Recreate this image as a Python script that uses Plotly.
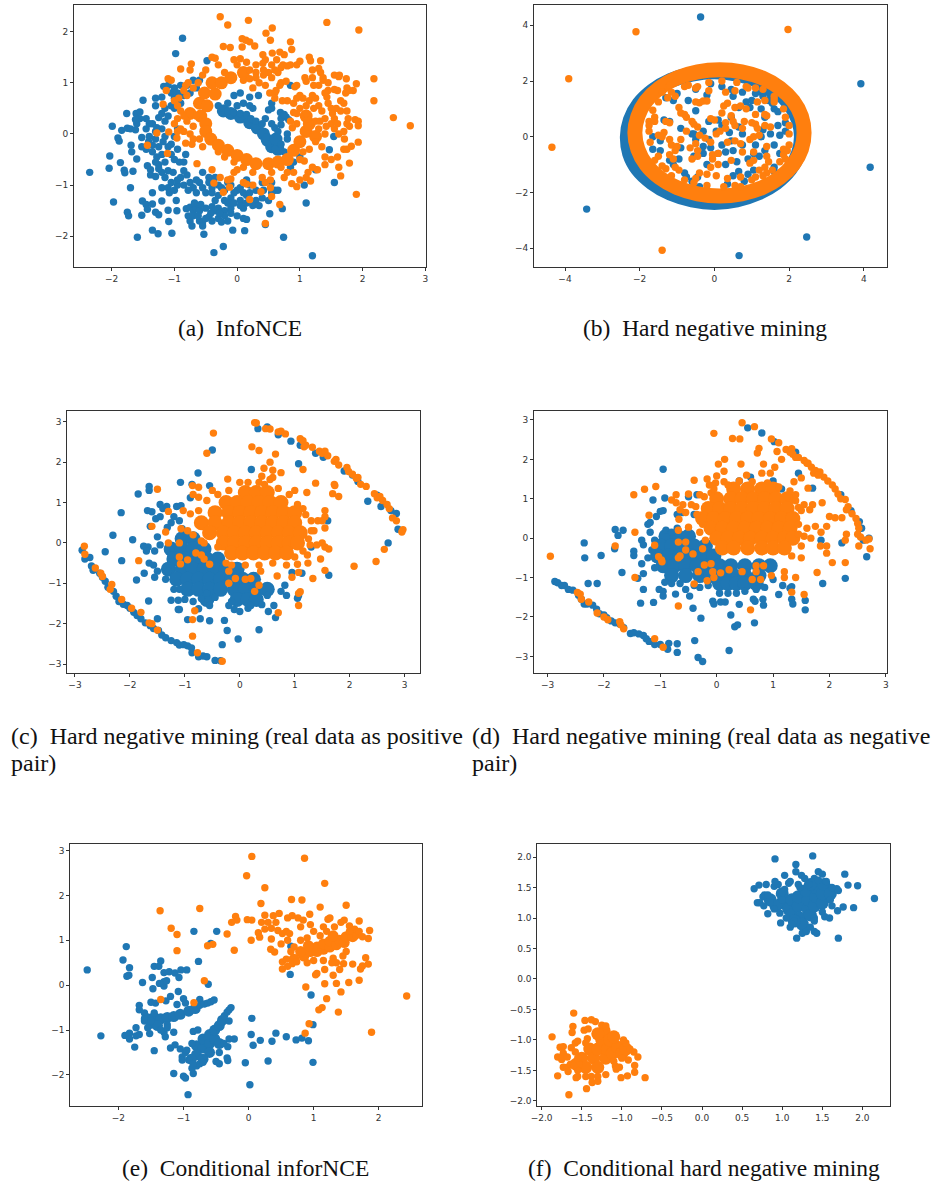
import plotly.graph_objects as go

BLUE = "#1f77b4"
ORANGE = "#ff7f0e"

# ---- panel (a) InfoNCE ----
a_xticks = [-2, -1, 0, 1, 2, 3]
a_yticks = [-2, -1, 0, 1, 2]
a_blue = [(-2.35,-0.75),(-2.04,-0.67),(-2.03,-0.43),(-1.99,0.15),(-1.97,-1.33),(-1.9,-0.08),(-1.88,-0.14),(-1.86,-0.56),(-1.84,0.07),(-1.8,-0.71),(-1.79,-0.76),(-1.76,0.4),(-1.75,0.11),(-1.75,-1.53),(-1.73,-1.6),(-1.69,-0.22),(-1.68,-0.35),(-1.7,-1.05),(-1.66,-0.73),(-1.6,-0.49),(-1.59,-2.02),(-1.61,0.4),(-1.55,0.43),(-1.52,-1.59),(-1.51,-1.31),(-1.52,-0.07),(-1.52,-0.25),(-1.5,0.66),(-1.45,-1.38),(-1.43,-1.47),(-1.41,-0.15),(-1.43,-0.62),(-1.38,-0.7),(-1.38,-0.8),(-1.35,-1.15),(-1.35,-1.37),(-1.3,-0.83),(-1.3,-1.53),(-1.25,-1.58),(-1.35,-1.88),(-1.26,-1.95),(-1.2,-1.31),(-1.1,-1.49),(-1.09,-1.71),(-1.04,-1.94),(-0.97,-1.3),(-0.96,-1.5),(-0.81,-1.46),
(-0.87,1.87),(-0.98,1.57),(-1.3,0.7),(-1.2,0.72),(-1.17,0.93),(-1.1,0.95),(-1.05,0.8),(-0.95,0.8),(-0.9,0.95),(-0.7,1.05),(-0.6,1.05),(-0.48,1.43),(-0.9,0.6),(-1.2,0.4),(-1.15,0.25),(-1.25,0.32),(-1.35,0.2),(-1.45,0.3),(-1.6,0.2),(-1.7,0.1),(-1.62,0.08),(-1.45,0.1),(-1.3,0.05),(-1.2,0.1),(-1.15,-0.05),(-1.3,-0.1),(-1.4,-0.05),(-1.25,-0.25),(-1.35,-0.35),(-1.2,-0.4),(-1.1,-0.25),(-1.0,-0.05),(-0.95,-0.3),(-0.82,-0.4),(-1.0,-0.5),(-1.15,-0.55),(-1.25,-0.6),(-0.85,-0.55),(-1.2,-0.75),(-1.1,-0.72),(-1.2,-1.05),(-1.1,-1.05),(-1.08,-1.15),(-1.0,-1.1),(-0.95,-1.0),(-0.9,-0.85),(-0.8,-0.8),(-0.75,-0.95),(-0.7,-1.05),(-0.6,-0.95),(-0.55,-0.75),(-0.45,-0.85),(-0.35,-0.85),(-0.55,-1.05),(-0.5,-1.15),(-0.4,-1.15),(-0.3,-1.0),(-0.3,-1.2),(-0.2,-1.1),(-0.1,-1.0),(0,-1.1),(-0.1,-1.25),(-0.2,-1.3),(-0.35,-1.3),(-0.4,-1.42),(-0.3,-1.45),(-0.2,-1.5),(-0.1,-1.45),(0.05,-1.3),(0.1,-1.45),(0.15,-1.2),(0.3,-1.3),(0.4,-1.25),(0.5,-1.3),(0.6,-1.1),(0.65,-1.1),(0.55,-0.95),(0.4,-0.95),(0.2,-1.0),
(-0.75,-1.43),(-0.7,-1.5),(-0.65,-1.45),(-0.6,-1.5),(-0.78,-1.6),(-0.75,-1.7),(-0.72,-1.8),(-0.6,-1.7),(-0.55,-1.72),(-0.5,-1.65),(-0.45,-1.62),(-0.55,-1.8),(-0.4,-1.7),(-0.3,-1.65),(-0.25,-1.72),(-0.2,-1.6),(-0.15,-1.7),(-0.1,-1.55),(0,-1.6),(0.1,-1.65),(0.15,-1.67),(-0.07,-1.88),(0.12,-1.89),(-0.53,-1.96),(-0.37,-2.32),(-0.22,-2.2),(0.45,-1.77),(0.74,-2.02),(1.2,-2.38),(0.72,-1.46),(0.52,-1.56),(1.1,-1.35),(1.55,-0.95),(1.07,-1.0),(1.25,-0.7),(1.47,-0.31),(1.54,-0.05),(0.85,-0.65),(0.85,0.95),(0.2,0.72),(0.34,0.75),(0.55,0.6),(0.55,0.5),(0.5,0.47),(0.69,0.42),(0.78,0.33),(0.82,0.28),(0.7,0.18),(0.6,0.12),
(-0.3,0.55),(-0.22,0.5),(-0.15,0.45),(-0.05,0.42),(0.05,0.4),(0.15,0.38),(0.22,0.3),(0.3,0.25),(0.4,0.2),(0.2,0.55),(0.0,0.55),(0.7,-0.2),(0.75,-0.35),(0.8,0.0),(1.0,-0.45),
(-1.55,0.3),(-1.4,0.2),(-1.28,0.12),(-1.62,0.28),(-1.05,0.55),(-1.1,0.35),(-1.0,0.5),(-0.95,0.1),(-1.35,-0.22),(-1.45,-0.3),(-1.28,-0.45),(-1.18,-0.15),(-1.05,-0.2),(-1.05,-0.4),(-0.92,-0.55),(-1.3,-0.55),(-1.25,-0.68),(-1.15,-0.85),(-1.05,-0.95),(-0.95,-0.9),(-1.02,-0.75),(-0.85,-0.72),(-0.85,-1.0),(-0.78,-1.1),(-0.65,-0.9),(-0.65,-1.15),(-0.45,-0.95),(-0.4,-1.05),(-0.25,-1.05),(-0.15,-0.95),(-0.05,-1.15),(0.05,-1.05),(0.1,-1.15),(0.2,-1.15),(0.15,-0.9),(0.3,-1.1),(0.42,-1.1),(0.55,-1.15),(-0.35,-1.5),(-0.28,-1.55),(-0.42,-1.55),(-0.5,-1.45),(-0.15,-1.35),(-0.05,-1.35),(0.05,-1.4),(0.15,-1.35),(0.25,-1.4),(0.35,-1.4),(-0.7,-1.6),(-0.62,-1.6),(-0.68,-1.35),(-0.58,-1.38),(-1.0,0.9),(-0.85,0.75),(-0.8,0.95),(-0.65,0.9),(-0.75,0.8),(-1.0,0.7),(-1.15,0.5),(-1.3,0.55),(0.05,0.8),(0.1,0.6),(0.25,0.5),(0.45,0.3),(0.55,0.2),(0.65,0.05),(0.7,0.3),(0.75,0.38),(0.8,-0.1),(0.9,-0.55),(-0.15,0.6),(-0.05,0.75)]
a_blue_core = [(-0.22,0.45),(-0.1,0.4),(0.05,0.33),(0.2,0.22),(0.32,0.12),(0.42,0.0),(0.48,-0.12),(0.55,-0.25),(0.65,-0.3),(0.62,-0.1)]
a_orange = [(-0.27,2.29),(-0.15,2.13),(0.18,2.22),(0.56,2.07),(0.46,1.97),(1.43,2.18),(1.94,2.03),(0.53,1.83),(0.08,1.86),(0.14,1.83),(0.2,1.8),(0.28,1.72),(0.08,1.7),(-0.22,1.71),(-0.11,1.69),(0.85,1.8),(0.87,1.65),(0.41,1.55),(0.56,1.58),(0.68,1.6),(0.75,1.55),(0.45,1.45),(0.63,1.45),(0.41,1.38),(1.15,1.5),(1.17,1.43),(1.0,1.42),(0.95,1.35),(1.33,1.43),(1.2,1.25),(1.3,1.28),(1.33,1.2),(0.73,1.35),(0.8,1.33),(0.85,1.35),(0.65,1.2),(0.55,1.1),(0.7,1.0),(0.78,1.03),(0.92,0.92),(1.08,1.1),(1.1,1.03),(1.22,0.95),(1.37,1.05),(1.37,1.1),(1.55,1.15),(1.63,1.15),(1.62,1.12),(1.74,1.08),(1.9,0.98),(2.18,1.08),(2.18,0.65),(2.49,0.32),(2.76,0.16),(1.75,0.9),(1.78,0.85),(1.85,0.85),(1.73,0.8),(1.45,0.85),(1.55,0.87),(1.4,0.8),(1.43,0.72),(1.65,0.65),(1.7,0.6),(1.65,0.45),(1.75,0.45),(1.77,0.3),(1.88,0.28),(1.93,0.25),(1.93,0.16),(1.75,0.2),(1.79,0.15),(1.93,-0.16),(1.82,-0.24),(1.71,-0.1),(1.62,0.0),(1.7,-0.3),(1.75,-0.3),(1.6,-0.45),(1.5,-0.5),(1.4,-0.45),(1.62,-0.65),(1.79,-0.57),(1.4,-0.6),(1.65,-0.82),(1.9,-1.18),(1.28,-0.7),(1.2,-0.65),(1.07,-0.53),(1.0,-0.9),(1.13,-0.75),(1.1,-0.85),(1.17,-0.92),(0.95,-1.03),(0.87,-0.97),(0.68,-1.38),(0.55,-1.22),(0.2,-1.28),(-0.22,-1.14),(-0.37,-0.96),(-0.12,-1.04),(0.45,-1.75),(0.45,-0.95),(0.53,-1.05),(0.38,-1.13),(0.53,-0.9),(0.1,-0.95),(0.15,-0.98),(0.25,-1.0),(-0.27,-0.85),(-0.15,-0.9),(-0.1,-0.88),(-0.05,-0.75),(0.0,-0.7),(-0.4,-0.7),(-0.64,-0.58),(-1.28,0.02),(-1.09,0.04),(-1.43,-0.22),(-1.11,-0.38),(-0.96,-0.08),(-0.82,-0.18),(-0.72,-0.2),(-1.0,0.65),(-0.93,0.7),(-1.18,0.58),(-1.13,0.85),(-1.1,1.08),(-1.05,1.05),(-0.9,1.27),(-0.73,1.37),(-0.82,0.95),(-0.75,1.25),(-0.5,1.25),(-0.4,1.5),(-0.35,1.48),(-0.3,1.35),(-0.2,1.2),(-0.05,1.45),(0.0,1.35),(0.05,1.47),(0.15,1.4),(0.2,1.25),(0.3,1.2),(0.35,1.0),(0.25,0.9),(0.45,0.95),(0.52,0.8),(0.6,0.8),(0.6,0.7),(0.8,0.65),(0.9,0.6),(0.95,0.7),(1.0,0.75),(1.05,0.7),(1.15,0.65),(1.2,0.75),(1.25,0.7),(1.3,0.55),(1.35,0.45),(1.45,0.6),(1.5,0.5),(1.4,0.3),(1.5,0.2),(1.55,0.3),(1.6,0.2),(1.55,0.1),(1.4,0.0),(1.3,0.1),(1.25,0.25),(1.1,0.4),(1.0,0.5),(0.95,0.4),(-1.0,0.2),(-0.95,0.3),(-0.9,0.1),(-0.8,0.25),(-0.85,0.35),(-0.7,0.15),(-0.65,0.35),(-0.75,0.4),
(-0.8,0.75),(-0.7,0.9),(-0.9,0.45),(-0.95,0.55),(-0.62,1.0),(-0.85,0.85),(-0.78,1.0),(-0.55,1.15),(0.1,1.05),(0.2,1.08),(0.3,1.1),(0.42,1.15),(0.5,1.2),(0.6,1.25),(0.7,1.3),(0.55,1.35),(0.3,1.35),(0.42,1.25),(0.68,0.95),(0.62,0.85),(0.72,0.65),(0.9,0.42),(0.85,0.25),(0.95,0.2),(0.88,0.12),(1.1,0.55),(1.22,0.5),(1.32,0.25),(1.42,0.15),(1.52,0.4),(1.58,0.5),(1.7,0.05),(1.25,-0.15),(1.35,-0.25),(1.15,-0.3),(1.05,-0.35),(1.0,-0.5),(0.8,-0.75),(0.75,-0.85),(0.9,-0.75),(0.7,-0.65),(0.55,-0.75),(0.4,-0.85),(0.25,-0.75),(0.1,-0.65),(-0.05,-0.55),(-0.2,-0.45),(-0.3,-0.35),(-0.55,-0.25),(-0.6,-0.1),(-0.75,0.0),(-0.85,0.05),(-0.95,0.05),(-0.7,-0.1),(0.95,0.95),(1.2,1.1),(1.45,1.0),(1.6,0.85),(1.3,0.95)]
a_orange_core = [(-0.75,0.4),(-0.58,0.35),(-0.5,0.2),(-0.6,0.6),(-0.48,0.55),(-0.52,0.8),(-0.35,0.78),(-0.4,1.0),(-0.25,1.0),(-0.1,1.1),(0.1,1.2),(-0.5,0.05),(-0.42,-0.1),(-0.3,-0.22),(-0.15,-0.32),(0.0,-0.42),(0.15,-0.5),(0.3,-0.58),(0.5,-0.58),(0.65,-0.55),(0.8,-0.5),(0.9,-0.32),(1.0,-0.15),(1.1,0.05),(1.15,0.2),(1.1,0.35),(1.25,-0.05)]

# ---- panel (b) Hard negative mining ----
b_xticks = [-4, -2, 0, 2, 4]
b_yticks = [-4, -2, 0, 2, 4]
b_blue_ring = [(2.33,0.0),(2.25,0.6),(2.02,1.17),(1.65,1.65),(1.17,2.02),(0.6,2.25),(0.0,2.33),(-0.6,2.25),(-1.17,2.02),(-1.65,1.65),(-2.02,1.17),(-2.25,0.6),(-2.33,0.0),(-2.27,-0.6),(-2.05,-1.17),(-1.67,-1.65),(-1.18,-2.03),(-0.6,-2.27),(0.0,-2.36),(0.6,-2.27),(1.17,-2.02),(1.65,-1.65),(2.02,-1.17),(2.25,-0.6),(2.33,0.0)]
b_orange_ring = [(2.4,0.14),(2.33,0.73),(2.11,1.28),(1.75,1.75),(1.28,2.11),(0.73,2.33),(0.14,2.4),(-0.45,2.33),(-1.0,2.11),(-1.47,1.75),(-1.83,1.28),(-2.05,0.73),(-2.13,0.14),(-2.05,-0.45),(-1.83,-1.0),(-1.47,-1.47),(-1.0,-1.83),(-0.45,-2.05),(0.14,-2.13),(0.73,-2.05),(1.28,-1.83),(1.75,-1.47),(2.11,-1.0),(2.33,-0.45),(2.4,0.14)]
b_blue = [(-0.37,4.3),(3.92,1.9),(4.17,-1.1),(-3.42,-2.6),(2.47,-3.6),(0.66,-4.27),(-1.3,1.4),(-1.1,1.3),(-0.5,0.93),(-1.0,1.55),(-0.5,1.7),(-0.1,1.9),(0.2,1.8),(0.45,1.7),(0.9,1.9),(1.25,1.6),(1.4,1.6),(1.5,1.5),(1.7,1.4),(1.0,1.3),(0.85,1.25),(0.95,1.05),(1.6,1.0),(1.7,0.9),(1.35,0.7),(1.7,0.4),(1.9,0.5),(1.9,0.2),(1.75,0.05),(1.6,-0.3),(1.75,-0.6),(1.6,-1.1),(1.6,-1.25),(1.2,-0.7),(1.05,-0.6),(0.9,-0.8),(0.6,-0.9),(0.65,-1.25),(0.9,-1.35),(0.5,-1.4),(0.3,-1.0),(0.1,-0.6),(-0.1,-0.4),(-0.15,-0.1),(0.05,0.2),(0.2,0.4),(0.45,0.7),(0.1,0.6),(-0.3,0.2),(-0.5,-0.1),(-0.6,0.1),(-0.9,0.3),(-1.2,0.55),(-1.35,0.6),(-1.65,0.0),(-1.65,-0.45),(-1.45,-0.15),(-1.45,-0.5),(-1.2,-0.85),(-1.1,-1.0),(-0.55,-0.7),(-0.6,-1.6),(-0.4,-1.8),(0.4,0.15),(0.45,-0.15),(0.5,-0.5),(0.75,-0.3),(1.1,-0.3),(1.25,0.0),(1.3,0.25),(1.35,-0.5),(1.05,-1.2),(-0.9,-0.4),(-0.95,-0.8),(-0.3,-0.6),(-0.3,-0.35),(-0.2,-1.0),(0.2,-0.3),(0.3,-0.55),(0.75,0.1),(0.65,0.35),(1.5,0.1),(-0.7,1.3),(-0.55,0.1),(-0.15,0.55),(0.5,1.45),(-0.2,1.5),(0.65,1.05),(1.25,1.0),(1.45,1.3),(1.3,1.45),(1.55,1.2),(1.1,1.55),(0.75,1.6),(-0.8,-1.3),(-0.75,-1.45),(-0.45,-1.45),(0.35,-1.7),(0.8,-1.6)]
b_orange = [(1.97,3.85),(-2.1,3.77),(-3.9,2.08),(-4.35,-0.38),(-1.4,-4.08),
(-1.2,1.85),(-1.05,1.95),(-0.7,1.85),(-0.45,1.8),(-0.15,1.65),(0.3,1.6),(0.55,1.65),(0.85,1.8),(1.1,1.75),(-1.4,1.6),(-1.05,1.45),(-1.25,1.4),(-0.5,1.25),(-0.4,1.22),(-0.3,1.28),(-0.2,1.28),(0.25,1.1),(0.35,1.2),(0.55,1.05),(0.7,1.1),(0.85,1.0),(1.15,1.25),(1.35,1.3),(1.6,1.35),(1.6,1.25),(-1.6,0.7),(-1.75,0.55),(-1.6,0.55),(-1.3,0.55),(-1.2,0.5),(-0.95,1.05),(-0.9,0.85),(-0.8,0.8),(-0.75,0.7),(-0.6,0.55),(-0.45,0.35),(-0.55,0.45),(-0.1,0.65),(0.0,0.6),(0.2,0.85),(0.45,0.75),(0.3,0.5),(0.5,0.55),(0.55,0.4),(0.8,0.55),(1.0,0.5),(1.1,0.8),(1.1,0.45),(1.35,0.8),(1.4,0.75),(1.35,0.4),(1.5,0.35),(1.9,0.7),(-1.5,0.05),(-1.35,0.15),(-1.4,0.0),(-1.2,-0.1),(-1.15,-0.3),(-1.0,-0.35),(-1.05,-0.5),(-0.9,-0.1),(-0.75,0.2),(-0.65,-0.4),(-0.5,-0.25),(-0.45,-0.5),(-0.25,-0.05),(-0.4,0.05),(-0.1,-0.2),(0.05,0.1),(0.15,0.2),(0.3,0.3),(0.35,-0.2),(0.55,-0.15),(0.7,-0.25),(0.75,-0.55),(0.75,0.3),(0.95,-0.1),(1.05,0.0),(1.2,0.05),(1.15,0.3),(1.05,-0.55),(1.4,-0.35),(1.4,-0.7),(1.85,-0.45),(1.95,-0.5),(1.9,-0.8),(1.75,-0.9),(-1.5,-0.7),(-1.2,-0.65),(-1.1,-0.8),(-1.05,-1.1),(-1.3,-1.15),(-0.95,-1.2),(-0.6,-0.8),(-0.45,-0.7),(-0.4,-1.3),(-0.1,-1.1),(-0.2,-1.35),(-0.05,-0.8),(-0.05,-0.65),(0.1,-0.6),(0.1,-1.0),(0.05,-1.4),(0.35,-1.5),(0.45,-0.85),(0.7,-1.45),(0.95,-0.95),(1.05,-0.85),(1.1,-1.45),(1.2,-1.2),(1.35,-1.1),(1.4,-1.3),(1.45,-0.9),(-0.5,-1.5),(0.7,-1.8),(-0.5,1.75),(0.9,1.75),
(-1.75,0.2),(-1.72,-0.2),(-1.6,-0.85),(-1.4,-1.05),(-1.15,-1.4),(-0.8,-1.55),(-0.55,-1.65),(-0.2,-1.75),(0.25,-1.8),(0.55,-1.75),(1.0,-1.55),(1.3,-1.4),(1.55,-1.2),(1.85,-0.65),(2.0,-0.3),(2.0,0.1),(2.0,0.4),(1.85,1.0),(1.6,1.45),(1.3,1.7),(0.6,1.95),(0.2,2.0),(-0.15,1.95),(-0.8,1.8),(-1.15,1.6),(-1.5,1.25),(-1.65,0.95),(-1.75,0.4)]

# ---- panel (c) real data as positive pair ----
c_xticks = [-3, -2, -1, 0, 1, 2, 3]
c_yticks = [-3, -2, -1, 0, 1, 2, 3]
c_blue = [(0.5,2.87),(0.33,2.83),(0.7,2.68),(0.93,2.52),(1.1,2.42),(1.38,2.22),(1.52,2.12),(1.07,1.96),(1.9,1.78),(2.05,1.68),(2.15,1.52),(2.33,1.03),(2.5,1.18),(2.57,0.9),(2.75,0.8),(2.85,0.73),(2.88,0.34),(2.7,0.0),(1.6,0.55),(1.62,-0.8),(1.13,-0.75),(0.95,-0.73),(1.3,-0.1),(1.05,-1.37),(1.07,-1.3),(0.85,-1.3),(0.75,-1.2),(0.82,-1.05),(0.65,-1.85),(0.62,-1.55),(0.52,-1.7),(0.4,-1.53),(0.5,-1.3),(0.35,-2.15),(-0.03,-2.38),(-0.32,-2.52),(-0.23,-2.17),(-0.28,-1.92),(-0.55,-1.93),(-0.72,-1.88),(-0.95,-1.9),(-0.55,-1.55),(-0.75,-1.63),(-1.1,-1.65),(-1.12,-1.65),(-1.25,-1.42),(-1.12,-1.42),(-1.0,-1.4),(-0.85,-1.45),(-0.7,-1.38),(-1.5,-1.88),(-1.66,-1.44),(-1.88,-0.92),(-2.15,-0.44),(-2.45,-0.22),(-2.31,0.19),(-1.95,0.08),(-2.16,0.75),(-1.85,1.21),(-1.65,1.3),(-1.65,1.4),(-1.68,0.8),(-1.6,0.77),(-1.63,0.41),(-1.53,0.6),(-1.45,0.65),(-1.45,0.95),(-1.4,0.85),(-1.33,0.9),(-1.32,0.38),(-1.2,0.65),(-1.15,0.9),(-1.07,0.92),(-1.08,1.5),(-0.9,1.12),(-0.87,1.45),(-0.76,1.73),(-0.55,1.42),(-0.5,2.3),(0.21,1.82),(-1.5,0.15),(-1.45,-0.05),(-1.55,-0.2),(-1.67,-0.1),(-1.75,-0.08),(-1.7,-0.2),(-1.65,-0.5),(-1.57,-0.55),(-1.5,-0.7),(-1.55,-0.85),(-1.74,-0.75),(-1.35,-0.9),(-1.3,-0.7),(-1.25,-0.3),(-1.1,-1.15),(-1.2,-1.15),(-0.2,-1.55),(-0.1,-1.65),(0.0,-1.7),(0.15,-1.62),(0.2,-1.55),(-0.15,-1.45),(-0.45,-1.35),(-0.6,-1.25),(-1.1,0.55),(-1.25,0.5),(-1.05,0.35),
(-2.87,-0.18),(-2.82,-0.4),(-2.73,-0.36),(-2.7,-0.57),(-2.67,-0.68),(-2.55,-0.75),(-2.5,-0.85),(-2.45,-0.95),(-2.4,-1.1),(-2.3,-1.2),(-2.25,-1.32),(-2.2,-1.45),(-2.12,-1.52),(-2.05,-1.55),(-2.0,-1.62),(-1.93,-1.72),(-1.87,-1.8),(-1.8,-1.88),(-1.72,-1.98),(-1.63,-2.05),(-1.57,-2.12),(-1.48,-2.17),(-1.42,-2.28),(-1.35,-2.35),(-1.25,-2.42),(-1.15,-2.47),(-1.1,-2.53),(-1.02,-2.52),(-0.95,-2.55),(-0.88,-2.6),(-0.87,-2.72),(-0.75,-2.82),(-0.67,-2.8),(-0.6,-2.82),(-0.45,-2.91),(-0.35,-2.92)]
c_blue_core = [(-1.05,0.1),(-0.85,0.1),(-1.25,-0.15),(-1.05,-0.15),(-0.85,-0.15),(-0.65,-0.15),(-1.2,-0.4),(-1.0,-0.4),(-0.8,-0.4),(-0.6,-0.4),(-0.4,-0.4),(-1.3,-0.65),(-1.05,-0.65),(-0.85,-0.65),(-0.65,-0.65),(-0.45,-0.65),(-0.25,-0.65),(-0.05,-0.65),(-1.15,-0.9),(-0.95,-0.9),(-0.75,-0.9),(-0.55,-0.9),(-0.35,-0.9),(-0.15,-0.9),(0.05,-0.9),(0.25,-0.9),(-0.95,-1.15),(-0.75,-1.15),(-0.55,-1.15),(-0.35,-1.15),(-0.1,-1.15),(0.1,-1.15),(0.3,-1.15),(0.5,-1.15),(-0.6,-1.4),(-0.05,-1.4),(0.15,-1.4),(0.3,-1.4)]
c_orange = [(0.3,2.97),(0.27,2.98),(0.47,2.83),(0.55,2.82),(0.7,2.75),(0.75,2.77),(0.83,2.7),(1.1,2.58),(1.15,2.53),(1.2,2.42),(1.17,2.38),(1.32,2.37),(1.45,2.27),(1.5,2.22),(1.55,2.27),(1.6,2.16),(1.72,2.02),(1.75,2.07),(1.8,1.93),(1.95,1.87),(1.98,1.77),(2.05,1.7),(2.12,1.6),(2.15,1.62),(2.2,1.45),(2.3,1.4),(2.45,1.22),(2.5,1.12),(2.55,1.15),(2.6,1.05),(2.68,0.95),(2.72,0.85),(2.78,0.62),(2.85,0.55),(2.97,0.33),(2.95,0.27),(0.22,2.38),(0.35,2.29),(0.65,2.2),(-0.6,2.22),(-0.48,2.72),(0.55,2.0),(0.44,1.85),(0.6,1.8),(0.75,1.74),(0.4,1.65),(0.55,1.57),(0.6,1.62),(1.15,1.82),(1.38,1.48),(1.22,1.25),(1.72,1.45),(1.73,1.42),(1.69,1.22),(1.8,1.15),(1.55,0.8),(1.55,0.65),(1.5,0.55),(1.42,0.55),(1.55,0.37),(1.3,0.3),(1.25,0.1),(1.4,-0.05),(1.5,0.0),(1.55,-0.1),(1.62,-0.15),(1.47,-0.4),(1.55,-0.68),(1.33,-0.88),(2.08,-0.58),(2.48,-0.46),(2.63,-0.16),(1.23,-0.3),(1.24,-0.5),(1.05,-0.53),(1.07,-0.73),(0.95,-0.85),(0.68,-0.82),(0.7,-1.73),(1.07,-1.25),(1.1,-1.21),(1.07,-1.55),(0.35,-1.05),(0.27,-1.2),(0.38,-0.7),(0.1,-0.9),(0.2,-0.88),(-0.08,-0.88),(-0.2,-0.7),(-0.2,-1.0),(-0.82,-1.68),(-0.86,-1.9),(-0.86,-2.31),(-0.77,-2.72),(-0.32,-2.93),(-1.84,-0.44),(-1.6,0.41),(-1.5,1.33),(-1.3,0.78),(-1.35,0.27),(-1.3,0.0),(-1.1,-0.35),(-1.08,-0.52),(-0.95,-0.42),(-1.1,0.0),(-1.07,0.35),(-0.95,0.3),(-0.85,0.2),(-1.03,0.8),(-0.85,1.2),(-0.86,1.42),(-0.75,1.38),(-0.75,1.13),(-2.83,-0.08),(-2.82,-0.28),(-2.63,-0.62),(-2.53,-0.75),(-2.5,-0.83),(-2.33,-1.03),(-2.36,-1.15),(-2.15,-1.4),(-1.97,-1.62),(-1.8,-1.72),(-1.65,-1.98),(-1.6,-2.0),(-1.5,-2.16),(-0.65,-0.4),(-0.55,-0.53),(-0.25,-0.5),(-0.7,0.05),(-0.8,-0.25),(-0.7,-0.3),(-0.22,1.58),(0.0,1.5),(0.15,1.5),(-0.5,1.3),(1.0,1.3),(0.9,1.2),(1.05,0.95),(1.15,0.85),(1.2,0.7),(1.3,0.55),(1.35,0.3),(1.28,-0.05),(1.15,-0.2),(1.0,-0.35),(0.85,-0.55),(0.6,-0.5),(0.35,-0.55),(0.1,-0.55),(-0.15,-0.55),(-0.4,-0.1),(-0.65,0.0),(-0.9,0.72),(-0.75,0.8),(-0.6,1.05),(-0.4,1.2),(-0.2,1.3),(0.45,1.45),(0.7,1.35),(0.35,1.5)]
c_orange_core = [(0.1,1.25),(0.3,1.25),(0.5,1.25),(-0.25,1.0),(-0.05,1.0),(0.15,1.0),(0.35,1.0),(0.55,1.0),(0.75,1.0),(-0.45,0.75),(-0.2,0.75),(0,0.75),(0.2,0.75),(0.4,0.75),(0.6,0.75),(0.8,0.75),(1.0,0.75),(-0.7,0.5),(-0.45,0.5),(-0.2,0.5),(0,0.5),(0.2,0.5),(0.4,0.5),(0.6,0.5),(0.8,0.5),(1.0,0.5),(-0.55,0.25),(-0.3,0.25),(-0.1,0.25),(0.1,0.25),(0.3,0.25),(0.5,0.25),(0.7,0.25),(0.9,0.25),(1.1,0.25),(-0.3,0.0),(-0.1,0.0),(0.1,0.0),(0.3,0.0),(0.5,0.0),(0.7,0.0),(0.9,0.0),(1.05,0.0),(-0.15,-0.25),(0.05,-0.25),(0.25,-0.25),(0.45,-0.25),(0.65,-0.25),(0.85,-0.25)]

# ---- panel (d) real data as negative pair ----
d_xticks = [-3, -2, -1, 0, 1, 2, 3]
d_yticks = [-3, -2, -1, 0, 1, 2, 3]
d_blue = [(0.55,2.8),(0.8,2.67),(1.02,2.45),(1.4,2.18),(1.45,1.65),(1.0,1.45),(1.15,1.25),(1.7,1.27),(0.6,1.55),(0.4,1.45),(-0.95,1.75),(-0.92,1.02),(-1.13,0.97),(-0.95,0.7),(-1.0,0.68),(-0.7,0.6),(-0.6,0.65),(-1.07,0.55),(-0.4,0.6),(-0.5,1.05),(-0.35,1.1),(-1.22,0.35),(-1.18,0.4),(-1.8,0.22),(-1.75,0.07),(-1.66,0.2),(-1.18,0.15),(-2.35,-0.12),(-2.34,-0.5),(-2.05,-0.44),(-1.81,-0.27),(-1.47,-0.44),(-1.47,-0.33),(-1.33,-0.65),(-1.33,-0.05),(-1.3,-0.17),(-1.22,-0.5),(-1.68,-0.87),(-1.3,-0.9),(-1.4,-1.02),(-2.28,-1.15),(-2.12,-1.15),(-1.3,-1.3),(-1.35,-1.65),(-1.12,-1.63),(-1.02,-1.3),(-0.95,-1.35),(-0.95,-1.47),(-0.92,-1.12),(-0.73,-1.42),(-0.55,-1.3),(-0.48,-1.47),(-0.42,-1.78),(-0.28,-2.03),(-0.39,-2.6),(-0.33,-3.03),(-0.25,-3.13),(-0.7,-2.68),(-0.7,-2.9),(-0.85,-2.67),(-0.87,-2.82),(0.07,-1.62),(0.15,-1.62),(-0.07,-1.6),(-0.05,-1.67),(0.25,-1.95),(0.32,-2.25),(0.37,-2.2),(0.22,-2.85),(0.67,-2.15),(0.4,-1.68),(0.65,-1.55),(0.68,-1.6),(0.82,-1.55),(0.83,-1.7),(1.1,-1.43),(1.33,-1.55),(1.35,-1.67),(1.57,-1.58),(1.57,-1.82),(1.17,-1.2),(1.3,-1.27),(1.33,-1.23),(1.88,-1.15),(2.28,-1.02),(1.85,-0.05),(2.22,-0.12),(2.2,1.1),(2.38,0.7),(2.53,0.42),(2.57,0.25),(2.6,-0.05),(2.66,-0.47),(2.7,0.0),(-0.7,0.25),(-0.9,0.2),(-0.8,0.15),(-0.3,-1.25),(-0.15,-1.2),(0.05,-1.4),(0.2,-1.4),(0.35,-1.4),(0.5,-1.35),(0.7,-1.3),(0.85,-1.25),(1.0,-1.05),(-0.4,-1.2),(-0.65,-1.15),(-0.8,-1.15),(-1.1,-0.75),(-1.15,-0.3),(-1.1,-0.05),
(-2.87,-1.1),(-2.82,-1.13),(-2.75,-1.2),(-2.7,-1.2),(-2.63,-1.3),(-2.55,-1.32),(-2.45,-1.45),(-2.4,-1.55),(-2.35,-1.67),(-2.3,-1.67),(-2.2,-1.7),(-2.13,-1.8),(-2.08,-1.92),(-2.0,-1.95),(-1.95,-2.02),(-1.87,-2.1),(-1.8,-2.15),(-1.72,-2.18),(-1.65,-2.27),(-1.53,-2.42),(-1.47,-2.4),(-1.38,-2.43),(-1.3,-2.47),(-1.25,-2.55),(-1.2,-2.62),(-1.1,-2.7),(-1.0,-2.7)]
d_blue_core = [(-0.9,0.05),(-0.7,0.05),(-0.5,0.05),(-1.0,-0.2),(-0.8,-0.2),(-0.6,-0.2),(-0.4,-0.2),(-0.2,-0.2),(-1.05,-0.45),(-0.85,-0.45),(-0.65,-0.45),(-0.45,-0.45),(-0.25,-0.45),(-0.05,-0.45),(-0.95,-0.7),(-0.75,-0.7),(-0.55,-0.7),(-0.35,-0.7),(-0.15,-0.7),(0.05,-0.7),(0.25,-0.7),(0.5,-0.7),(0.75,-0.7),(0.95,-0.7),(-0.8,-0.95),(-0.55,-0.95),(-0.3,-0.95),(-0.1,-0.95),(0.1,-0.95),(0.3,-0.95),(0.5,-0.95),(0.75,-0.95),(0.05,-1.15),(0.2,-1.15),(0.35,-1.15),(0.5,-1.15),(0.7,-1.15)]
d_orange = [(0.45,2.93),(0.67,2.83),(-0.05,2.66),(0.28,2.53),(0.41,2.52),(0.97,2.52),(1.1,2.42),(1.07,2.2),(0.75,2.28),(0.72,2.16),(1.23,2.25),(1.3,2.18),(1.33,2.27),(1.35,2.13),(1.4,2.05),(1.15,2.0),(0.83,1.88),(0.43,1.88),(0.03,1.88),(0.14,2.0),(1.03,1.8),(0.8,1.65),(0.95,1.65),(0.13,1.7),(0.53,1.6),(0.0,1.58),(-0.02,1.4),(-0.17,1.5),(-0.13,1.35),(0.13,1.43),(0.63,1.43),(-0.4,1.47),(1.37,1.43),(1.5,1.53),(1.3,1.2),(1.62,1.27),(-1.47,1.1),(-1.28,1.24),(-1.08,1.31),(-0.72,1.1),(-0.8,0.97),(-0.72,0.9),(-0.6,0.85),(-0.65,0.72),(-0.55,0.65),(-0.5,1.12),(-0.45,0.85),(-0.37,0.8),(-0.3,1.1),(-0.22,1.05),(-1.2,0.58),(-0.67,0.48),(-0.68,0.2),(-0.5,0.28),(-1.45,0.15),(-1.8,-0.2),(-1.45,-1.0),(-1.1,-0.18),(-1.03,-0.47),(-0.98,-0.55),(-0.97,-0.6),(-0.68,-0.1),(-0.68,-0.5),(-0.65,-0.45),(-0.55,-0.3),(-0.55,-0.1),(-0.42,-0.4),(-0.4,-1.16),(-0.33,-0.85),(-0.25,-0.27),(-0.22,-0.68),(-0.17,-1.08),(-0.1,-0.65),(-0.05,-1.0),(-0.07,-0.85),(0.07,-0.88),(0.22,-0.8),(0.45,-0.85),(0.7,-0.7),(0.7,-0.85),(0.83,-0.7),(0.63,-1.05),(0.78,-1.05),(0.97,-0.95),(-0.68,-1.72),(0.6,-1.82),(-1.1,-2.55),(-0.95,-2.77),(-2.95,-0.46),(-2.47,-1.38),(-2.42,-1.42),(-2.4,-1.55),(-2.27,-1.62),(-2.12,-1.9),(-2.0,-2.0),(-1.93,-2.07),(-1.72,-2.12),(-1.7,-2.2),(-1.65,-2.3),(1.2,-0.85),(1.2,-1.0),(1.33,-1.37),(1.4,-1.0),(1.55,-1.43),(1.78,-0.87),(2.05,-0.62),(2.28,-0.62),(1.95,-0.38),(1.95,-0.2),(1.84,-0.2),(1.33,-0.45),(1.5,-0.5),(1.5,-0.2),(1.67,-0.0),(1.55,0.05),(1.75,0.3),(1.95,0.3),(1.85,0.15),(1.6,0.25),(2.3,0.1),(2.28,-0.05),(2.52,-0.2),(2.65,-0.05),(2.7,-0.02),(2.72,-0.27),(2.5,0.1),(2.55,0.03),(2.22,0.52),(2.0,0.55),(2.1,0.52),(2.3,0.72),(1.87,0.9),(1.7,0.85),(1.55,0.85),(1.65,0.72),(1.45,0.78),(1.4,0.95),(1.5,0.7),(-0.35,0.6),(-0.25,0.35),(-0.3,0.15),(-0.2,-0.05),(-0.1,1.15),(-0.05,1.25),(1.25,1.05),(1.4,1.1),(1.45,0.35),(1.45,0.1),(0.4,1.45),(0.2,1.35),(0.9,1.4),(1.1,1.3),
(1.45,2.05),(1.55,1.97),(1.62,1.9),(1.68,1.8),(1.75,1.72),(1.83,1.68),(1.9,1.55),(1.97,1.45),(2.05,1.35),(2.1,1.25),(2.15,1.12),(2.2,1.0),(2.28,0.98),(2.33,0.8),(2.4,0.62),(2.47,0.5),(2.5,0.37),(2.52,0.25),(1.6,1.9),(1.72,1.65),(1.8,1.6)]
d_orange_core = [(0.3,1.25),(0.55,1.25),(0.8,1.25),(1.0,1.25),(0.0,1.0),(0.25,1.0),(0.45,1.0),(0.65,1.0),(0.85,1.0),(1.05,1.0),(1.25,1.0),(-0.15,0.75),(0.05,0.75),(0.25,0.75),(0.45,0.75),(0.65,0.75),(0.85,0.75),(1.05,0.75),(1.25,0.75),(-0.25,0.5),(-0.05,0.5),(0.15,0.5),(0.35,0.5),(0.55,0.5),(0.75,0.5),(0.95,0.5),(1.15,0.5),(1.35,0.5),(-0.1,0.25),(0.1,0.25),(0.3,0.25),(0.5,0.25),(0.7,0.25),(0.9,0.25),(1.1,0.25),(1.3,0.25),(0.0,0.0),(0.2,0.0),(0.4,0.0),(0.6,0.0),(0.8,0.0),(1.0,0.0),(1.2,0.0),(1.35,0.0),(0.1,-0.25),(0.3,-0.25),(0.55,-0.25),(0.8,-0.25),(1.0,-0.25),(1.2,-0.25)]

# ---- panel (e) Conditional inforNCE ----
e_xticks = [-2, -1, 0, 1, 2]
e_yticks = [-2, -1, 0, 1, 2, 3]
e_blue = [(-2.48,0.34),(-2.27,-1.13),(-1.93,0.56),(-1.88,0.86),(-1.83,0.39),(-1.87,0.2),(-1.84,0.22),(-1.9,-1.12),(-1.83,-1.07),(-1.83,-1.2),(-1.75,-1.38),(-1.73,-1.13),(-1.68,-1.1),(-1.73,-0.95),(-1.63,0.06),(-1.68,-0.45),(-1.68,-0.55),(-1.6,-0.62),(-1.6,-0.8),(-1.55,-0.95),(-1.52,-1.08),(-1.5,-0.38),(-1.47,-0.08),(-1.48,0.17),(-1.45,0.42),(-1.38,0.42),(-1.35,0.54),(-1.3,0.28),(-1.37,0.04),(-1.3,-0.02),(-1.3,0.08),(-1.26,0.1),(-1.22,0.3),(-1.13,0.27),(-1.07,0.17),(-1.04,0.34),(-0.95,0.34),(-1.08,-0.14),(-1.45,-1.46),(-1.43,-0.4),(-1.27,-0.35),(-1.2,-0.25),(-1.1,-0.43),(-1.0,-0.3),(-0.97,-0.4),(-0.75,-0.32),(-1.3,-1.05),(-1.28,-1.15),(-1.15,-1.05),(-1.2,-1.4),(-1.13,-1.33),(-1.05,-1.42),(-1.02,-1.6),(-1.02,-1.67),(-0.92,-1.67),(-0.97,-1.5),(-1.15,-1.97),(-1.0,-2.03),(-0.97,-2.07),(-0.93,-2.44),(-0.85,-1.97),(-0.87,-1.85),(-0.8,-1.8),(-0.85,-1.03),(-0.78,-1.0),(-0.87,-1.3),(-0.5,-1.7),(-0.45,-1.75),(-0.45,-1.5),(-0.33,-1.62),(-0.32,-1.68),(-0.32,-1.37),(-0.38,-1.3),(-0.3,-1.2),(-0.22,-1.2),(-0.3,-0.8),(-0.05,-1.73),(0.02,-2.22),(0.05,-0.74),(0.04,-1.1),(0.07,-1.34),(0.18,-1.23),(0.3,-1.69),(0.36,-1.25),(0.42,-1.07),(0.58,-1.15),(0.73,-1.22),(0.82,-1.18),(0.92,-1.24),(0.99,-0.88),(0.99,-1.72),(0.96,-0.22),(0.64,0.24),(0.65,0.87),(-0.77,0.53),(-0.84,1.2),(-0.58,0.93),(-0.49,1.2),(-0.62,0.02),
(-1.6,-0.75),(-1.5,-0.8),(-0.75,-0.45),(-0.68,-0.42),(-0.63,-0.4),(-0.58,-0.37),(-0.53,-0.33),(-0.37,-0.68),(-0.33,-0.6),(-0.3,-0.55),(-0.27,-0.5),(-1.45,-0.62),(-1.25,-0.88),(-1.35,-1.0),(-1.25,-0.95),(-0.95,-1.45),(-0.75,-1.75),(-0.7,-1.72),(-0.85,-1.75)]
e_blue_core = [(-1.55,-0.75),(-1.45,-0.72),(-1.35,-0.75),(-1.25,-0.72),(-1.15,-0.7),(-1.05,-0.65),(-0.92,-0.58),(-0.82,-0.52),(-1.5,-0.85),(-1.4,-0.9),(-0.8,-1.35),(-0.7,-1.4),(-0.7,-1.2),(-0.6,-1.3),(-0.6,-1.1),(-0.52,-1.2),(-0.52,-1.0),(-0.45,-0.9),(-0.4,-0.78),(-0.8,-1.55),(-0.88,-1.65),(-0.6,-1.5),(-0.45,-1.3),(-0.7,-1.65)]
e_orange = [(0.05,2.87),(0.86,2.83),(-0.03,2.44),(1.17,2.27),(0.25,2.17),(0.66,1.91),(0.82,1.9),(0.19,1.82),(1.5,1.78),(1.1,1.74),(-1.36,1.66),(-0.75,1.71),(0.47,1.6),(0.38,1.55),(0.25,1.56),(0.6,1.5),(0.67,1.55),(0.94,1.58),(0.76,1.5),(0.84,1.45),(0.42,1.4),(0.3,1.4),(0.2,1.4),(0.05,1.45),(-0.02,1.46),(-0.2,1.53),(-0.18,1.45),(-0.26,1.4),(-0.33,1.14),(-1.19,1.27),(-1.1,1.13),(-0.63,0.88),(-0.55,0.91),(-1.1,0.77),(-0.22,0.78),(0.04,1.0),(0.15,1.17),(0.17,1.07),(0.25,1.25),(0.35,1.27),(0.45,1.22),(0.35,1.03),(0.52,1.15),(0.58,1.2),(0.63,1.15),(0.6,1.0),(0.5,0.92),(0.34,0.8),(0.4,0.74),(0.8,1.3),(0.95,1.35),(1.15,1.3),(1.22,1.47),(1.25,1.5),(1.32,1.3),(1.42,1.4),(1.47,1.45),(1.55,1.32),(1.63,1.25),(1.7,1.43),(1.86,1.22),(1.84,1.04),(1.65,1.1),(1.75,1.08),(1.8,0.61),(1.84,0.47),(1.75,0.43),(1.72,0.36),(1.7,0.11),(1.46,0.48),(1.6,0.47),(1.4,0.35),(1.17,0.35),(1.05,0.26),(1.03,0.23),(1.17,0.03),(1.3,0.22),(1.35,0.04),(1.54,0.06),(1.42,-0.15),(0.88,-0.04),(1.2,-0.3),(1.13,-0.5),(1.08,-0.55),(1.38,-0.6),(0.93,-0.86),(0.87,-1.07),(1.89,-1.05),(2.43,-0.24),(-0.68,0.1),(-1.35,-0.32),(-0.84,-0.39),(0.52,0.52),(0.58,0.58),(0.52,0.36),(0.6,0.42),(0.67,0.48),(0.74,0.52),(1.35,0.5),(1.28,0.5),(0.7,0.85),(0.65,0.75),(0.9,1.05),(0.8,1.0),(1.1,1.1),(1.2,1.2),(1.0,1.2),(1.3,0.6),(1.15,0.55),(1.0,0.55),(0.9,0.5),(1.5,0.75),(1.45,0.65),(1.7,1.2),(1.55,1.2)]
e_orange_core = [(0.85,0.65),(0.8,0.75),(0.95,0.75),(1.05,0.75),(1.05,0.85),(0.92,0.88),(1.15,0.8),(1.15,0.92),(1.25,0.85),(1.25,0.98),(1.35,0.9),(1.4,1.0),(1.47,0.95),(1.3,1.1),(1.5,1.08),(1.6,1.08),(0.7,0.58)]

# ---- panel (f) Conditional hard negative mining ----
f_xticks = [-2.0, -1.5, -1.0, -0.5, 0.0, 0.5, 1.0, 1.5, 2.0]
f_yticks = [-2.0, -1.5, -1.0, -0.5, 0.0, 0.5, 1.0, 1.5, 2.0]
f_blue = [(0.91,1.97),(1.38,2.02),(1.17,1.88),(1.17,1.76),(1.03,1.7),(1.45,1.76),(1.5,1.72),(1.78,1.72),(1.24,1.7),(1.28,1.65),(1.4,1.65),(1.82,1.54),(1.94,1.53),(2.15,1.32),(0.65,1.48),(0.71,1.54),(0.8,1.55),(0.9,1.52),(0.95,1.55),(0.91,1.6),(1.08,1.57),(1.1,1.6),(1.03,1.47),(1.0,1.42),(0.69,1.25),(0.72,1.25),(0.77,1.2),(0.76,1.35),(0.78,1.38),(0.82,1.38),(0.82,1.07),(0.85,1.25),(0.9,1.15),(0.97,1.08),(0.98,0.92),(1.1,0.85),(1.18,0.67),(1.15,0.95),(1.25,0.75),(1.3,0.78),(1.35,0.85),(1.4,0.78),(1.43,0.75),(1.4,1.0),(1.4,0.95),(1.5,1.1),(1.53,1.02),(1.59,1.0),(1.7,0.67),(1.69,1.12),(1.76,1.18),(1.89,1.17),(1.62,1.2),(1.6,1.3),(1.68,1.48),(1.7,1.45),(1.62,1.5),(1.55,1.6),(1.45,1.62),(1.33,1.55),(1.22,1.5),(1.2,1.55),(1.0,1.3),(1.05,1.0),(1.12,0.9)]
f_blue_core = [(0.85,1.3),(1.0,1.25),(1.0,1.4),(1.08,1.15),(1.12,1.3),(1.12,1.05),(1.2,1.2),(1.2,1.35),(1.22,1.0),(1.25,0.9),(1.32,1.15),(1.32,1.3),(1.3,1.45),(1.35,1.05),(1.4,1.2),(1.42,1.35),(1.42,1.5),(1.5,1.25),(1.5,1.4),(1.52,1.55),(1.6,1.4),(1.35,1.55),(1.15,0.95),(0.92,1.2)]
f_orange = [(-1.6,-0.56),(-1.61,-0.78),(-1.62,-0.88),(-1.87,-0.95),(-1.46,-0.68),(-1.38,-0.67),(-1.33,-0.7),(-1.47,-0.84),(-1.42,-0.82),(-1.25,-0.76),(-1.2,-0.77),(-1.58,-1.05),(-1.55,-1.02),(-1.63,-1.13),(-1.77,-1.12),(-1.73,-1.11),(-1.73,-1.22),(-1.8,-1.28),(-1.75,-1.32),(-1.68,-1.28),(-1.73,-1.45),(-1.68,-1.45),(-1.67,-1.52),(-1.64,-1.4),(-1.8,-1.59),(-1.57,-1.62),(-1.55,-1.6),(-1.45,-1.6),(-1.38,-1.6),(-1.3,-1.6),(-1.37,-1.7),(-1.3,-1.68),(-1.44,-1.8),(-1.66,-1.9),(-1.2,-1.57),(-1.08,-1.43),(-1.07,-1.48),(-1.03,-1.45),(-1.01,-1.62),(-0.93,-1.59),(-0.84,-1.42),(-0.84,-1.53),(-0.71,-1.62),(-0.8,-1.28),(-0.85,-1.2),(-0.9,-1.15),(-0.95,-1.05),(-0.98,-1.0),(-0.92,-1.33),(-1.0,-1.3),(-1.1,-1.35),(-1.55,-1.5),(-1.6,-1.42),(-1.55,-1.3),(-1.58,-1.2),(-1.45,-1.05),(-1.43,-0.98)]
f_orange_core = [(-1.5,-1.3),(-1.45,-1.45),(-1.4,-1.15),(-1.35,-1.3),(-1.3,-1.45),(-1.3,-1.15),(-1.25,-1.0),(-1.22,-0.85),(-1.2,-1.3),(-1.18,-1.15),(-1.15,-1.0),(-1.12,-1.22),(-1.05,-1.12),(-1.0,-1.22),(-0.95,-1.15),(-1.1,-0.95),(-1.3,-0.9),(-1.57,-1.4)]

panels = [
    dict(box=(74, 426, 5, 267), xr=(-2.6, 3.01), yr=(-2.6, 2.52), xt=a_xticks, yt=a_yticks, blue=a_blue, orange=a_orange, blue_core=a_blue_core, orange_core=a_orange_core, core=13),
    dict(box=(534, 887, 5, 267), xr=(-4.83, 4.62), yr=(-4.68, 4.73), xt=b_xticks, yt=b_yticks, blue=b_blue, orange=b_orange, blue_ring=b_blue_ring, orange_ring=b_orange_ring),
    dict(box=(67.3, 420, 411.3, 673.3), xr=(-3.14, 3.28), yr=(-3.23, 3.26), xt=c_xticks, yt=c_yticks, blue=c_blue, orange=c_orange, blue_core=c_blue_core, orange_core=c_orange_core, core=15),
    dict(box=(534, 887, 411.3, 673.3), xr=(-3.24, 3.02), yr=(-3.43, 3.22), xt=d_xticks, yt=d_yticks, blue=d_blue, orange=d_orange, blue_core=d_blue_core, orange_core=d_orange_core, core=15),
    dict(box=(70.3, 422.3, 844.3, 1106.3), xr=(-2.74, 2.67), yr=(-2.7, 3.14), xt=e_xticks, yt=e_yticks, blue=e_blue, orange=e_orange, blue_core=e_blue_core, orange_core=e_orange_core, core=11),
    dict(box=(537.3, 889.7, 844.3, 1106.3), xr=(-2.054, 2.34), yr=(-2.09, 2.21), xt=f_xticks, yt=f_yticks, blue=f_blue, orange=f_orange, blue_core=f_blue_core, orange_core=f_orange_core, core=13),
]

captions = [
    ("(a)\u00a0 InfoNCE", 240, 328, "center", 23.5),
    ("(b)\u00a0 Hard negative mining", 704.5, 328, "center", 23.5),
    ("(c)\u00a0 Hard negative mining (real data as positive", 9, 736, "left", 24),
    ("pair)", 9, 763, "left", 24),
    ("(d)\u00a0 Hard negative mining (real data as negative", 470, 736, "left", 24),
    ("pair)", 470, 763, "left", 24),
    ("(e)\u00a0 Conditional inforNCE", 245, 1168, "center", 23.5),
    ("(f)\u00a0 Conditional hard negative mining", 704, 1168, "center", 23.5),
]

W, H = 935, 1186
fig = go.Figure()
layout = dict(width=W, height=H, margin=dict(l=0, r=0, t=0, b=0, autoexpand=False), paper_bgcolor="white", plot_bgcolor="white", showlegend=False)


def add(points, color, size, ax, ay, mode="markers"):
    fig.add_trace(go.Scatter(x=[p[0] for p in points], y=[p[1] for p in points], mode=mode, xaxis=ax, yaxis=ay,
                             marker=dict(color=color, size=size, line=dict(width=0)), hoverinfo="skip",
                             line=dict(color=color, width=15, shape="spline")))


for i, p in enumerate(panels, start=1):
    ax, ay = f"x{i}", f"y{i}"
    l, r, t, b = p["box"]
    for ck, col in (("blue", BLUE), ("orange", ORANGE)):
        if ck + "_ring" in p:
            add(p[ck + "_ring"], col, 7.4, ax, ay, "lines")
        if ck + "_core" in p:
            add(p[ck + "_core"], col, p["core"], ax, ay)
        add(p[ck], col, 7.4, ax, ay)
    common = dict(showline=True, mirror=True, linecolor="#333333", linewidth=1, ticks="outside", ticklen=3, tickwidth=1,
                  tickcolor="#333333", showgrid=False, zeroline=False, tickfont=dict(family="DejaVu Sans", size=9, color="#333333"))
    layout[f"xaxis{i}" if i > 1 else "xaxis"] = dict(common, domain=[l / W, r / W], range=list(p["xr"]), tickvals=p["xt"],
        ticktext=[str(v).replace("-", "\u2212") for v in p["xt"]], anchor=ay)
    layout[f"yaxis{i}" if i > 1 else "yaxis"] = dict(common, domain=[1 - b / H, 1 - t / H], range=list(p["yr"]), tickvals=p["yt"],
        ticktext=[str(v).replace("-", "\u2212") for v in p["yt"]], anchor=ax)

layout["annotations"] = [dict(text=t, x=x / W, y=1 - y / H, xref="paper", yref="paper", xanchor=a, yanchor="middle", showarrow=False,
                              font=dict(family="Liberation Serif", size=s, color="#111111")) for t, x, y, a, s in captions]
fig.update_layout(**layout)
fig.write_html("out.html", config={"displayModeBar": False}, post_script="document.body.style.margin='0';document.documentElement.style.overflow='hidden';")
